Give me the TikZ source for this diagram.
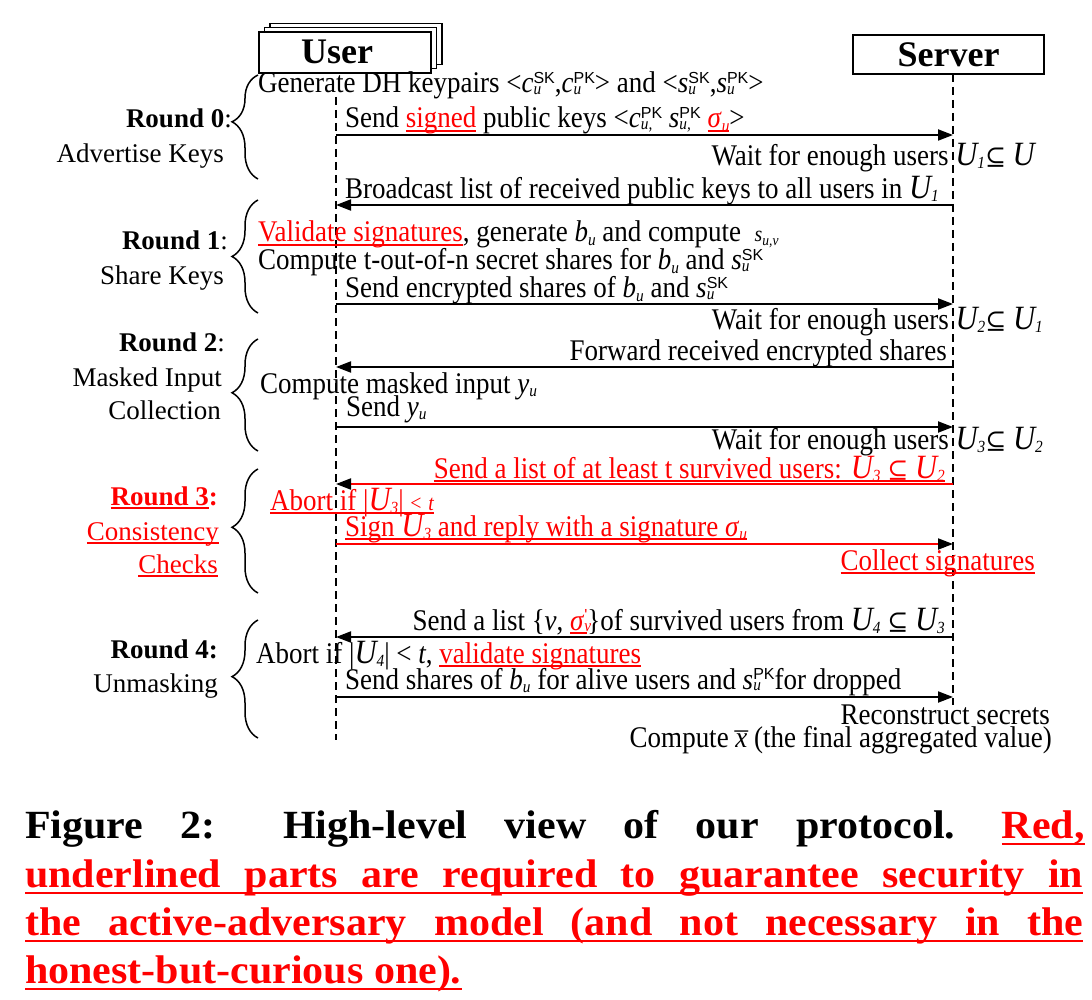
\documentclass[tikz,border=0pt]{standalone}
\usepackage{fontspec}
\usetikzlibrary{arrows.meta,decorations.pathreplacing}
\newfontfamily\tm[FakeStretch=0.9]{Liberation Serif}
\newfontfamily\lab{Liberation Serif}
\newfontfamily\hd{Liberation Serif}
\newfontfamily\capf[FakeStretch=1.05]{Liberation Serif}
\newfontfamily\arial{Liberation Sans}
\newfontfamily\dv{DejaVu Serif}
\newsavebox\ulbox
\newcommand\uln[1]{\sbox\ulbox{#1}\rlap{\rule[-4pt]{\wd\ulbox}{1.6pt}}\usebox\ulbox}
\newcommand\subsz{\fontsize{17}{17}\selectfont}
\newcommand\supsz{\fontsize{16}{16}\selectfont}
\newcommand\Sb[2]{\textit{#1}\raisebox{-0.12em}{\subsz\itshape #2}}
\newcommand\SbSp[3]{\textit{#1}\rlap{\raisebox{-0.05em}{\subsz\itshape #2}}\raisebox{0.32em}{\supsz\arial #3}}
\newcommand\Uc[1]{{\fontsize{34}{34}\selectfont\itshape U}\raisebox{-0.1em}{\subsz\itshape #1}}
\newcommand\sbs{{\dv\fontsize{25}{25}\selectfont ⊆}}
\newcommand\xbar{{\setbox0\hbox{\textit{x}}\rlap{\hbox to\wd0{\hss\raisebox{-0.22em}{¯}\hss}}\box0}}
\begin{document}
\begin{tikzpicture}[x=1pt,y=-1pt,
  txt/.style={inner sep=0pt, font=\tm\fontsize{30}{36}\selectfont},
  lw/.style={txt, anchor=base west},
  le/.style={txt, anchor=base east},
  lbl/.style={inner sep=0pt, anchor=base east, font=\lab\fontsize{27}{32}\selectfont},
  life/.style={line width=1.4pt, dash pattern=on 8pt off 5pt},
  msg/.style={line width=2pt, -{Triangle[length=15pt,width=11pt]}},
  msgr/.style={line width=2pt, red, -{Triangle[length=15pt,width=11pt,color=black]}},
  brc/.style={line width=1.5pt, decorate, decoration={brace, amplitude=26pt, aspect=#1}},
  brc/.default=0.5,
  headbox/.style={draw, line width=1.5pt, fill=white, minimum width=172pt, minimum height=41pt, inner sep=0pt},
  hdr/.style={inner sep=0pt, font=\hd\bfseries\fontsize{36}{40}\selectfont},
  captxt/.style={inner sep=0pt, font=\capf\bfseries\fontsize{40}{48}\selectfont},
  capline/.style={red, line width=2pt}]
\useasboundingbox (0,0) rectangle (1092,1000);

% headers
\node[headbox] (ub3) at (356,44) {};
\node[headbox] (ub2) at (350.5,48.25) {};
\node[headbox] (ub1) at (345,52.5) {};
\node[hdr] (user) at (337,52) {User};
\node[headbox, minimum width=191pt, minimum height=39pt] (srv) at (948.5,54.5) {};
\node[hdr] (server) at (948.5,55) {Server};

% lifelines
\coordinate (ul0) at (336,97);
\coordinate (ulE) at (336,740);
\coordinate (sl0) at (953,74);
\coordinate (slE) at (953,705);
\draw[life] (ul0) -- (ulE);
\draw[life] (sl0) -- (slE);

% message end points
\foreach \n/\y in {1/135,2/205,3/304,4/367,5/427,6/484,7/544,8/637,9/697}{
  \coordinate (u\n) at (336,\y);
  \coordinate (s\n) at (953,\y);
}
\draw[msg] (u1) -- (s1);
\draw[msg] (s2) -- (u2);
\draw[msg] (u3) -- (s3);
\draw[msg] (s4) -- (u4);
\draw[msg] (u5) -- (s5);
\draw[msgr] (s6) -- (u6);
\draw[msgr] (u7) -- (s7);
\draw[msg] (s8) -- (u8);
\draw[msg] (u9) -- (s9);

% texts
\node[lw] (t1) at (258,93) {Generate DH keypairs <\SbSp{c}{u}{SK},\SbSp{c}{u}{PK}> and <\SbSp{s}{u}{SK},\SbSp{s}{u}{PK}>};
\node[lw] (t2) at (345,128) {Send {\color{red}\uln{signed}} public keys <\SbSp{c}{u,}{PK} \SbSp{s}{u,}{PK} {\color{red}\uln{\Sb{σ}{u}}}>};
\node[le] (t3) at (1035,166) {Wait for enough users \Uc{1}\sbs\ \Uc{}};
\node[lw] (t4) at (345,199) {Broadcast list of received public keys to all users in \Uc{1}};
\node[lw] (t5) at (258,242) {{\color{red}\uln{Validate signatures}}, generate \Sb{b}{u} and compute\ \ {\fontsize{22}{22}\selectfont\itshape s}\raisebox{-0.12em}{\fontsize{15}{15}\selectfont\itshape u,v}};
\node[lw] (t6) at (258,270) {Compute t-out-of-n secret shares for \Sb{b}{u} and \SbSp{s}{u}{SK}};
\node[lw] (t7) at (345,298) {Send encrypted shares of \Sb{b}{u} and \SbSp{s}{u}{SK}};
\node[le] (t8) at (1043,329) {Wait for enough users \Uc{2}\sbs\ \Uc{1}};
\node[le] (t9) at (947,360) {Forward received encrypted shares};
\node[lw] (t10) at (260,393) {Compute masked input \Sb{y}{u}};
\node[lw] (t11) at (346,416) {Send \Sb{y}{u}};
\node[le] (t12) at (1043,449) {Wait for enough users \Uc{3}\sbs\ \Uc{2}};
\node[le, red] (t13) at (945,478) {\uln{Send a list of at least t survived users: \Uc{3} \sbs\ \Uc{2}}};
\node[lw, red] (t14) at (270,510) {\uln{Abort if |\Uc{3}| {\fontsize{22}{22}\selectfont <} {\fontsize{22}{22}\selectfont\itshape t}}};
\node[lw, red] (t15) at (345,536) {\uln{Sign \Uc{3} and reply with a signature \Sb{σ}{u}}};
\node[le, red] (t16) at (1035,570) {\uln{Collect signatures}};
\node[le] (t17) at (945,630) {Send a list \{\textit{v}, {\color{red}\uln{\SbSp{σ}{v}{'}}}\}of survived users from \Uc{4} \sbs\ \Uc{3}};
\node[lw] (t18) at (256,663) {Abort if |\Uc{4}| < \textit{t}, {\color{red}\uln{validate signatures}}};
\node[lw] (t19) at (345,689) {Send shares of \Sb{b}{u} for alive users and \SbSp{s}{u}{PK}for dropped};
\node[le] (t20) at (1050,724) {Reconstruct secrets};
\node[le] (t21) at (1052,747) {Compute \xbar\ (the final aggregated value)};

% round labels
\node[lbl] (r0a) at (232,128) {\textbf{Round 0}:};
\node[lbl] (r0b) at (224,163) {Advertise Keys};
\node[lbl] (r1a) at (228,250) {\textbf{Round 1}:};
\node[lbl] (r1b) at (224,284) {Share Keys};
\node[lbl] (r2a) at (225,351) {\textbf{Round 2}:};
\node[lbl] (r2b) at (222,386) {Masked Input};
\node[lbl] (r2c) at (221,419) {Collection};
\node[lbl, red] (r3a) at (218,505) {\textbf{\uln{Round 3}:}};
\node[lbl, red] (r3b) at (219,540) {\uln{Consistency}};
\node[lbl, red] (r3c) at (218,573) {\uln{Checks}};
\node[lbl] (r4a) at (218,658) {\textbf{Round 4:}};
\node[lbl] (r4b) at (218,692) {Unmasking};

% braces
\coordinate (b0t) at (258,75);  \coordinate (b0b) at (258,179);
\coordinate (b1t) at (258,200); \coordinate (b1b) at (258,313);
\coordinate (b2t) at (258,339); \coordinate (b2b) at (258,451);
\coordinate (b3t) at (258,469); \coordinate (b3b) at (258,593);
\coordinate (b4t) at (258,620); \coordinate (b4b) at (258,738);
\draw[brc=0.55] (b0b) -- (b0t);
\draw[brc] (b1b) -- (b1t);
\draw[brc=0.52] (b2b) -- (b2t);
\draw[brc=0.53] (b3b) -- (b3t);
\draw[brc=0.52] (b4b) -- (b4t);

% caption
\node[captxt, anchor=base west] (c1) at (25,838) {\makebox[930pt][s]{Figure 2: High-level view of our protocol.}};
\node[captxt, anchor=base east, red] (c1r) at (1085,838) {Red,};
\node[captxt, anchor=base west, red] (c2) at (25,887) {\makebox[1058pt][s]{underlined parts are required to guarantee security in}};
\node[captxt, anchor=base west, red] (c3) at (25,935) {\makebox[1058pt][s]{the active-adversary model (and not necessary in the}};
\node[captxt, anchor=base west, red] (c4) at (25,983) {honest-but-curious one).};
\draw[capline] ([yshift=-6pt]c1r.base west) -- ([yshift=-6pt]c1r.base east);
\draw[capline] ([yshift=-6pt]c2.base west) -- ([yshift=-6pt]c2.base east);
\draw[capline] ([yshift=-6pt]c3.base west) -- ([yshift=-6pt]c3.base east);
\draw[capline] ([yshift=-6pt]c4.base west) -- ([yshift=-6pt]c4.base east);
\end{tikzpicture}
\end{document}
